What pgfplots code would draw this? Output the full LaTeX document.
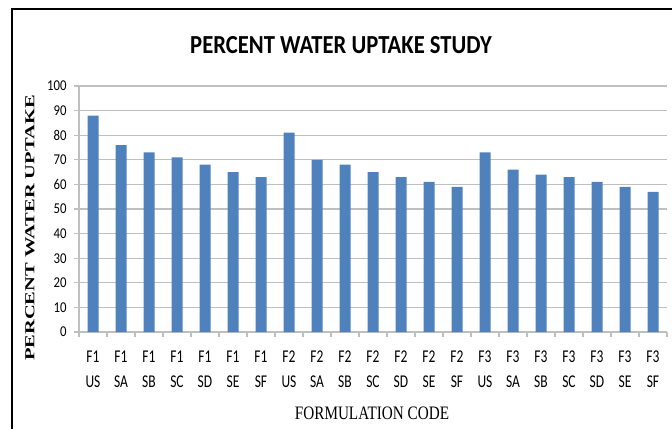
\documentclass[border=0pt]{standalone}
\usepackage{pgfplots}
\pgfplotsset{compat=1.18}
\usepackage{fontspec}
\setmainfont{Carlito}
\newfontfamily\tickfont[FakeStretch=0.85]{Carlito}
\newfontfamily\xtfont[FakeStretch=0.75]{Carlito}
\newfontfamily\titlefont[FakeStretch=0.87]{Carlito}
\newfontfamily\labfont{Liberation Serif}
\newfontfamily\xlabfont[FakeStretch=0.8]{Liberation Serif}
\definecolor{barblue}{HTML}{4F81BD}
\definecolor{gridgray}{HTML}{BFBFBF}
\begin{document}
\begin{tikzpicture}[x=1pt,y=1pt]
\useasboundingbox (0,0) rectangle (672,429);
\draw[line width=2.5pt] (12,0) -- (12,420) -- (672,420);
\begin{axis}[
  at={(79pt,97pt)}, anchor=south west,
  scale only axis, width=588pt, height=246pt,
  ymin=0, ymax=100, xmin=-0.5, xmax=20.5,
  ytick={0,10,...,100},
  ymajorgrids, grid style={gridgray, line width=1.2pt},
  axis x line*=bottom, axis y line*=left,
  axis line style={gridgray, line width=1.2pt, -},
  tick align=outside,
  major tick length=5pt,
  tick style={gridgray, line width=1.2pt},
  xtick={0,...,20},
  x tick style={draw=none},
  xticklabels={{F1\\US},{F1\\SA},{F1\\SB},{F1\\SC},{F1\\SD},{F1\\SE},{F1\\SF},
               {F2\\US},{F2\\SA},{F2\\SB},{F2\\SC},{F2\\SD},{F2\\SE},{F2\\SF},
               {F3\\US},{F3\\SA},{F3\\SB},{F3\\SC},{F3\\SD},{F3\\SE},{F3\\SF}},
  xticklabel style={align=center, font=\xtfont\fontsize{18}{25}\selectfont, yshift=-10pt},
  yticklabel style={font=\tickfont\fontsize{15}{15}\selectfont, xshift=-4pt},
  /pgf/number format/assume math mode=true,
  extra x ticks={-0.5,0.5,...,20.5},
  extra x tick labels={},
  extra x tick style={x tick style={draw=gridgray, line width=1.2pt}, grid=none},
  ybar, bar width=11pt,
]
\addplot[fill=barblue, draw=none] coordinates {
(0,88) (1,76) (2,73) (3,71) (4,68) (5,65) (6,63)
(7,81) (8,70) (9,68) (10,65) (11,63) (12,61) (13,59)
(14,73) (15,66) (16,64) (17,63) (18,61) (19,59) (20,57)};
\end{axis}
\node[font=\titlefont\bfseries\fontsize{26}{26}\selectfont] at (341,384) {PERCENT WATER UPTAKE STUDY};
\node[rotate=90, font=\labfont\bfseries\fontsize{20.5}{20.5}\selectfont] at (30,201) {\scalebox{1}[0.67]{PERCENT WATER UPTAKE}};
\node[font=\xlabfont\fontsize{19}{19}\selectfont] at (372,16) {FORMULATION CODE};
\end{tikzpicture}
\end{document}
